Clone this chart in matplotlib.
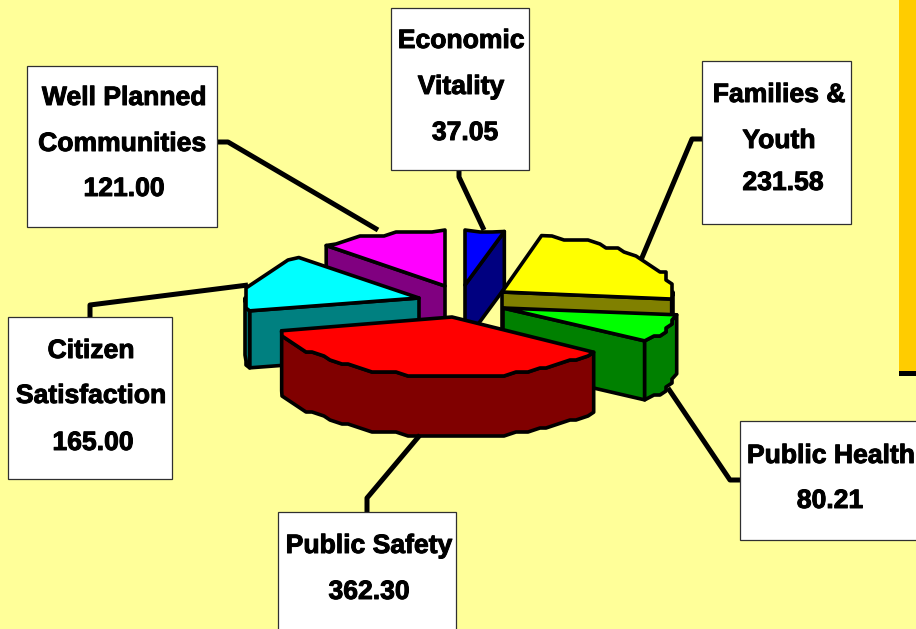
import numpy as np
import matplotlib
matplotlib.use("Agg")
import matplotlib.pyplot as plt
import matplotlib.patheffects as pe
from matplotlib.patches import Polygon, Rectangle

categories = ["Economic Vitality", "Families & Youth", "Public Health",
              "Public Safety", "Citizen Satisfaction", "Well Planned Communities"]
values = [37.05, 231.58, 80.21, 362.30, 165.00, 121.00]
top_colors = ["#0000FF", "#FFFF00", "#00FF00", "#FF0000", "#00FFFF", "#FF00FF"]
side_colors = ["#000080", "#808000", "#008000", "#800000", "#008080", "#800080"]

# layout of the exploded slices, in pixels
apex_x = [465, 502, 503, 452, 419, 445]
apex_y = [285, 292, 308, 317, 298, 286]
radius_x = [170, 171, 175, 175, 174, 172]
radius_y = [55, 58, 56, 60, 56, 56]
depth = [57, 57, 59, 60, 57, 57]
draw_order = [0, 5, 1, 4, 2, 3]

BG = "#FFFF99"
fig = plt.figure(figsize=(9.16, 6.29), dpi=100, facecolor=BG)
ax = fig.add_axes([0, 0, 1, 1])
ax.set_xlim(0, 916)
ax.set_ylim(629, 0)
ax.axis("off")
LW = 2.6

ax.add_patch(Rectangle((899, -2), 19, 374, fc="#FFCC00", ec="none", zorder=1))
ax.add_patch(Rectangle((899, 371), 19, 4.5, fc="black", ec="none", zorder=1))

ends = np.cumsum(values) / np.sum(values) * 360.0
starts = np.r_[0.0, ends[:-1]]


def arc_points(i, a0, a1):
    n = max(2, int(abs(a1 - a0) / 4.0) + 1)
    t = np.radians(np.linspace(a0, a1, n))
    x = apex_x[i] + radius_x[i] * np.sin(t)
    y = apex_y[i] - radius_y[i] * np.cos(t)
    # coarse vertices give the stepped edge of the original
    x[1:-1] = np.round(x[1:-1] / 6) * 6
    y[1:-1] = np.round(y[1:-1] / 4) * 4
    return np.column_stack([x, y])


def poly(pts, color, z):
    ax.add_patch(Polygon(pts, closed=True, fc=color, ec="black", lw=LW,
                         joinstyle="round", zorder=z))


z = 5
for i in draw_order:
    a0, a1 = starts[i], ends[i]
    apex = np.array([apex_x[i], apex_y[i]], float)
    down = np.array([0, depth[i]], float)
    arc = arc_points(i, a0, a1)
    # radial walls that face the viewer
    if np.sin(np.radians(a0)) < 0:
        p = arc[0]
        poly([apex, p, p + down, apex + down], side_colors[i], z); z += 1
    if np.sin(np.radians(a1)) > 0:
        p = arc[-1]
        poly([apex, p, p + down, apex + down], side_colors[i], z); z += 1
    # outer rim, front half
    lo, hi = max(a0, 90), min(a1, 270)
    if hi > lo:
        rim = arc_points(i, lo, hi)
        poly(np.vstack([rim, (rim + down)[::-1]]), side_colors[i], z); z += 1
    poly(np.vstack([apex, arc]), top_colors[i], z); z += 1

# leader lines
leader_x = [[459, 459, 484], [702, 692, 641], [668, 730, 740],
            [420, 367, 367], [248, 90, 90], [217, 228, 378]]
leader_y = [[170, 177, 230], [139, 139, 260], [388, 480, 480],
            [435, 498, 512], [285, 305, 317], [142, 142, 230]]
for lx, ly in zip(leader_x, leader_y):
    ax.plot(lx, ly, color="black", lw=3.6, solid_joinstyle="round",
            solid_capstyle="butt", zorder=40)

# label boxes: left, top, right, bottom
boxes = [(391, 8, 529, 170), (702, 61, 851, 224), (740, 421, 925, 540),
         (278, 512, 456, 640), (8, 317, 172, 479), (27, 66, 217, 227)]
for l, t, r, b in boxes:
    ax.add_patch(Rectangle((l + 1, t + 1), r - l, b - t, fc="#C8C8A0", ec="none", zorder=49))
    ax.add_patch(Rectangle((l, t), r - l, b - t, fc="white", ec="#303030", lw=0.9, zorder=50))

label_lines = [["Economic", "Vitality"], ["Families &", "Youth"], ["Public Health"],
               ["Public Safety"], ["Citizen", "Satisfaction"], ["Well Planned", "Communities"]]
line_x = [[461, 461, 465], [779, 779, 783], [831, 830], [369, 369], [91, 91, 93], [124, 122, 124]]
line_y = [[41, 87, 133], [95, 141, 183], [456, 501], [546, 592], [351, 396, 443], [98, 144, 189]]
for i in range(6):
    texts = label_lines[i] + [f"{values[i]:.2f}"]
    for s, x, y in zip(texts, line_x[i], line_y[i]):
        ax.text(x, y, s, ha="center", va="center", family="Liberation Sans",
                fontweight="bold", fontsize=19.1, color="black", zorder=60,
                path_effects=[pe.withStroke(linewidth=0.7, foreground="black")])

fig.savefig("out.png", dpi=100, facecolor=BG)
